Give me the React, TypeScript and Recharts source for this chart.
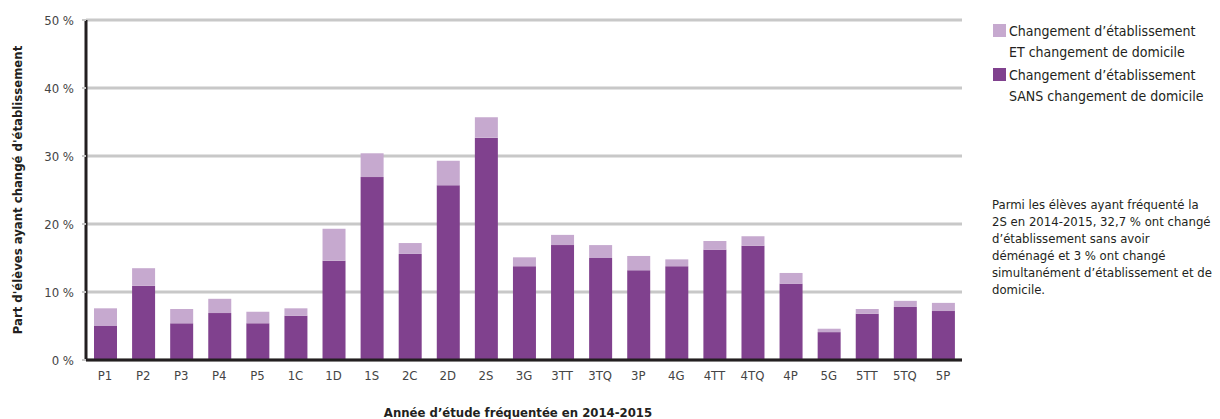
import { BarChart, Bar, XAxis, YAxis, CartesianGrid, Label } from 'recharts';

const categories = ['P1', 'P2', 'P3', 'P4', 'P5', '1C', '1D', '1S', '2C', '2D', '2S', '3G', '3TT', '3TQ', '3P', '4G', '4TT', '4TQ', '4P', '5G', '5TT', '5TQ', '5P'];
// Changement d'établissement SANS changement de domicile
const sansDomicile = [5.0, 10.9, 5.4, 6.9, 5.4, 6.5, 14.6, 26.9, 15.6, 25.7, 32.7, 13.8, 16.9, 15.0, 13.2, 13.8, 16.2, 16.8, 11.2, 4.1, 6.8, 7.8, 7.2];
// Changement d'établissement ET changement de domicile
const avecDomicile = [2.6, 2.6, 2.1, 2.1, 1.7, 1.1, 4.7, 3.5, 1.6, 3.6, 3.0, 1.3, 1.5, 1.9, 2.1, 1.0, 1.3, 1.4, 1.6, 0.5, 0.7, 0.9, 1.2];
const yTicks = [0, 10, 20, 30, 40, 50];

const DARK = '#80418E';
const LIGHT = '#C6A9CF';
const FONT = '"DejaVu Sans Condensed", "DejaVu Sans", sans-serif';

const data = categories.map((name, i) => ({
  name,
  sans: sansDomicile[i],
  avec: avecDomicile[i],
}));

export default function App() {
  return (
    <div style={{ position: 'absolute', left: 0, top: 0, width: 1220, height: 419, overflow: 'hidden', background: '#fff', fontFamily: FONT }}>
      <BarChart
        width={1220}
        height={419}
        data={data}
        margin={{ top: 20, right: 258, bottom: 0, left: 0 }}
        barSize={23}
      >
        <CartesianGrid vertical={false} stroke="#C8C8C8" strokeWidth={3} />
        <XAxis
          dataKey="name"
          height={59}
          axisLine={{ stroke: '#231F20', strokeWidth: 3 }}
          tickLine={false}
          tickSize={9}
          tick={{ fontSize: 13, fill: '#444', fontFamily: FONT }}
          interval={0}
        >
          <Label
            value="Année d’étude fréquentée en 2014-2015"
            position="insideBottom"
            offset={2}
            dx={-6}
            style={{ fontSize: 13, fontWeight: 'bold', fill: '#231F20', fontFamily: FONT }}
          />
        </XAxis>
        <YAxis
          width={86}
          domain={[0, 50]}
          ticks={yTicks}
          interval={0}
          tickFormatter={(v: number) => `${v} %`}
          axisLine={{ stroke: '#231F20', strokeWidth: 3 }}
          tickLine={{ stroke: '#C8C8C8', strokeWidth: 2 }}
          tickSize={4}
          tickMargin={8}
          tick={{ fontSize: 13, fill: '#444', fontFamily: FONT }}
        >
          <Label
            value="Part d'élèves ayant changé d'établissement"
            angle={-90}
            position="insideLeft"
            offset={17}
            style={{ fontSize: 13, fontWeight: 'bold', fill: '#231F20', fontFamily: FONT, textAnchor: 'middle' }}
          />
        </YAxis>
        <Bar dataKey="sans" stackId="a" fill={DARK} isAnimationActive={false} />
        <Bar dataKey="avec" stackId="a" fill={LIGHT} isAnimationActive={false} />
      </BarChart>

      {/* Légende */}
      <div style={{ position: 'absolute', left: 993, top: 21, fontSize: 14, color: '#231F20', lineHeight: '21px' }}>
        <div style={{ display: 'flex' }}>
          <span style={{ width: 13, height: 13, background: LIGHT, marginTop: 3, marginRight: 3, flexShrink: 0 }} />
          <span>Changement d’établissement<br />ET changement de domicile</span>
        </div>
        <div style={{ display: 'flex', marginTop: 2 }}>
          <span style={{ width: 13, height: 13, background: DARK, marginTop: 3, marginRight: 3, flexShrink: 0 }} />
          <span style={{ whiteSpace: 'nowrap' }}>Changement d’établissement<br />SANS changement de domicile</span>
        </div>
      </div>

      {/* Note */}
      <div style={{ position: 'absolute', left: 992, top: 196, width: 222, fontSize: 13, color: '#231F20', lineHeight: '17px' }}>
        Parmi les élèves ayant fréquenté la 2S en 2014-2015, 32,7 % ont changé d’établissement sans avoir déménagé et 3 % ont changé simultanément d’établissement et de domicile.
      </div>
    </div>
  );
}
